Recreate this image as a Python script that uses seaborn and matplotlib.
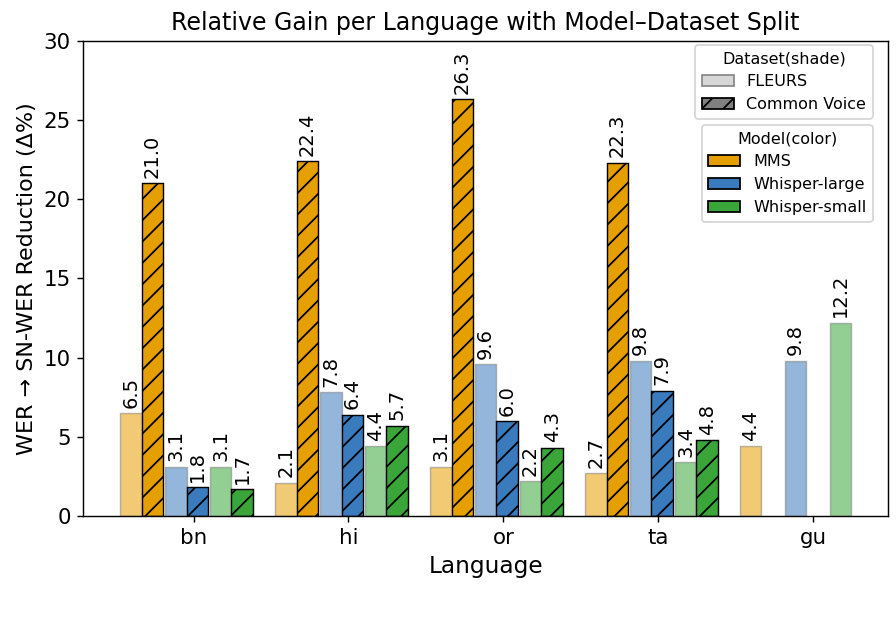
import numpy as np
import matplotlib
matplotlib.use("Agg")
import matplotlib.pyplot as plt
from matplotlib.patches import Patch
import seaborn as sns

# Data
languages = ["bn", "hi", "or", "ta", "gu"]
models = ["MMS", "Whisper-large", "Whisper-small"]
datasets = ["FLEURS", "Common Voice"]

mms_fleurs = [6.5, 2.1, 3.1, 2.7, 4.4]
mms_cv = [21.0, 22.4, 26.3, 22.3, np.nan]
wl_fleurs = [3.1, 7.8, 9.6, 9.8, 9.8]
wl_cv = [1.8, 6.4, 6.0, 7.9, np.nan]
ws_fleurs = [3.1, 4.4, 2.2, 3.4, 12.2]
ws_cv = [1.7, 5.7, 4.3, 4.8, np.nan]

values = {
    ("MMS", "FLEURS"): mms_fleurs,
    ("MMS", "Common Voice"): mms_cv,
    ("Whisper-large", "FLEURS"): wl_fleurs,
    ("Whisper-large", "Common Voice"): wl_cv,
    ("Whisper-small", "FLEURS"): ws_fleurs,
    ("Whisper-small", "Common Voice"): ws_cv,
}

model_colors = {"MMS": "#E69F00", "Whisper-large": "#3A7BBD", "Whisper-small": "#3AA63A"}

sns.set_style("ticks")
plt.rcParams["font.family"] = ["DejaVu Sans"]
# plain black text like the original
plt.rcParams.update({"text.color": "black", "axes.labelcolor": "black",
                     "xtick.color": "black", "ytick.color": "black"})

fig, ax = plt.subplots(figsize=(7, 4.84375), dpi=128)
fig.subplots_adjust(left=0.093, right=0.991, top=0.934, bottom=0.168)

x = np.arange(len(languages))
width = 0.14
model_step = 0.29
shift = -0.045

for i, model in enumerate(models):
    for j, ds in enumerate(datasets):
        vals = np.array(values[(model, ds)], dtype=float)
        mask = ~np.isnan(vals)
        pos = x + shift + (i - 1) * model_step + (j - 0.5) * width
        if ds == "FLEURS":
            bars = ax.bar(pos[mask], vals[mask], width, color=model_colors[model],
                          alpha=0.55, edgecolor="gray", linewidth=0.8)
        else:
            bars = ax.bar(pos[mask], vals[mask], width, color=model_colors[model],
                          edgecolor="black", hatch="//", linewidth=0.8)
        for b, v in zip(bars, vals[mask]):
            ax.annotate(f"{v:.1f}", (b.get_x() + b.get_width() / 2, b.get_height()),
                        xytext=(0, 3), textcoords="offset points",
                        ha="center", va="bottom", rotation=90, fontsize=11)

ax.set_ylim(0, 30)
ax.set_xticks(x)
ax.set_xticklabels(languages)
ax.tick_params(axis="both", labelsize=12)
ax.set_xlabel("Language", fontsize=13)
ax.set_ylabel("WER \u2192 SN-WER Reduction (\u0394%)", fontsize=12.5)
ax.set_title("Relative Gain per Language with Model\u2013Dataset Split", fontsize=13.3)
for s in ax.spines.values():
    s.set_visible(True)
    s.set_color("black")

ds_handles = [
    Patch(facecolor="lightgray", edgecolor="gray", alpha=0.9, label="FLEURS"),
    Patch(facecolor="gray", edgecolor="black", hatch="//", label="Common Voice"),
]
leg1 = ax.legend(handles=ds_handles, title="Dataset(shade)", loc="upper right",
                 fontsize=9, title_fontsize=9, borderaxespad=0,
                 bbox_to_anchor=(0.981, 0.992))
ax.add_artist(leg1)

model_handles = [Patch(facecolor=model_colors[m], edgecolor="black", label=m) for m in models]
ax.legend(handles=model_handles, title="Model(color)", loc="upper right",
          fontsize=9, title_fontsize=9, borderaxespad=0,
          bbox_to_anchor=(0.981, 0.823))

fig.savefig("out.png", dpi=128)
